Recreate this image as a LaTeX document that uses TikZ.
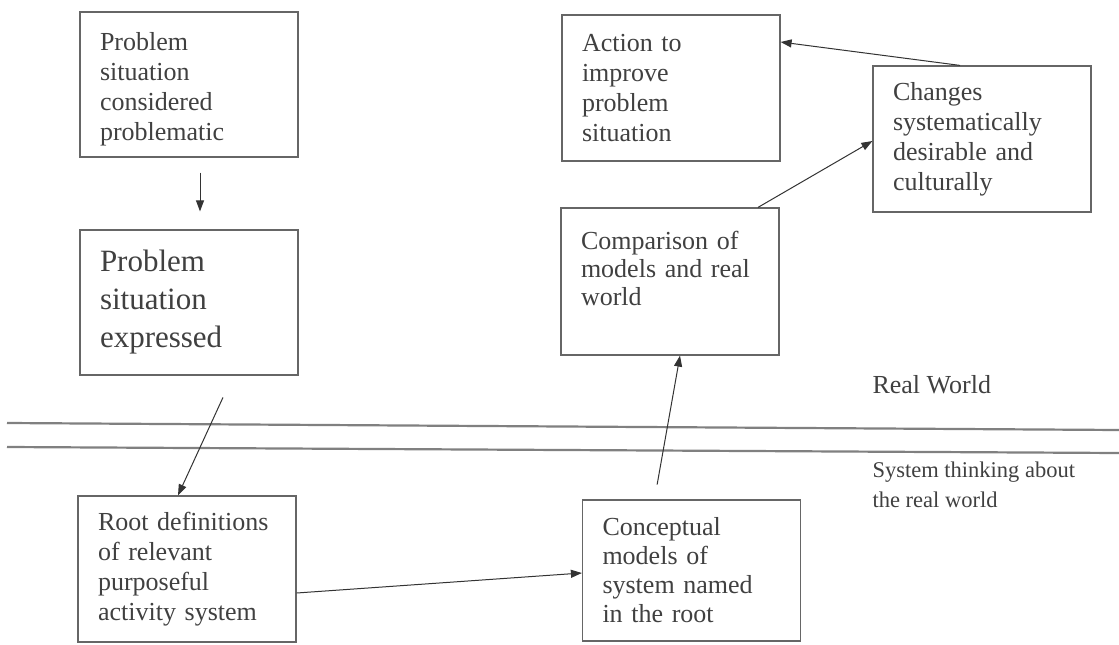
\documentclass[tikz,border=0pt]{standalone}
\usepackage{fontspec}
\setmainfont{Liberation Serif}
\usetikzlibrary{arrows.meta}

\begin{document}
\begin{tikzpicture}[
    x=1pt, y=-1pt,
    box/.style={draw=black!60, line width=1.2pt, rectangle, align=left, text=black!75,
                text width=178pt, inner xsep=20pt, minimum height=145pt,
                font=\fontsize{26}{30}\selectfont},
    bigbox/.style={box, font=\fontsize{31}{38}\selectfont},
    arrow/.style={-{Triangle[length=11pt,width=8pt]}, line width=1pt, black!80},
    divider/.style={line width=2.2pt, black!50},
    zone/.style={align=left, text=black!75, anchor=west}
]

\useasboundingbox (0,0) rectangle (1119,645);

% Real world
\node[box, text depth=86pt] (considered) at (189, 84.5) {Problem\\situation\\considered\\problematic};
\node[bigbox] (expressed) at (189, 302.5) {Problem\\situation\\expressed};
\node[box, minimum height=146pt] (action) at (671, 88) {Action to\\improve\\problem\\situation};
\node[box, minimum height=146pt] (changes) at (982, 139) {Changes\\systematically\\desirable and\\culturally};
\node[box, minimum height=147pt, text depth=83pt, font=\fontsize{26}{28}\selectfont] (comparison) at (670, 281.5) {Comparison of\\models and real\\world};

% Systems thinking
\node[box, minimum height=146pt] (rootdef) at (187, 569) {Root definitions\\of relevant\\purposeful\\activity system};
\node[box, minimum height=141pt, font=\fontsize{26}{29}\selectfont] (conceptual) at (691.5, 570.5) {Conceptual\\models of\\system named\\in the root};

% Boundary between the two worlds
\draw[divider] (7,423) -- (1119,430);
\draw[divider] (7,447) -- (1119,453);

\node[zone, font=\fontsize{26}{30}\selectfont] (realworld) at (869,385) {Real World};
\node[zone, anchor=north west, font=\fontsize{22.5}{30}\selectfont] (systhink) at (869,458) {System thinking about\\the real world};

% Flow
\draw[arrow, shorten <=15pt, shorten >=18pt] ([xshift=11pt]considered.south) -- ([xshift=11pt]expressed.north);
\draw[arrow, shorten <=24pt] ([xshift=44pt]expressed.south) -- ([xshift=-9pt]rootdef.north);
\draw[arrow] ([yshift=-24pt]rootdef.east) -- ([yshift=-2.5pt]conceptual.west);
\draw[arrow, shorten <=15pt] ([xshift=-37pt]conceptual.north) -- ([xshift=10pt]comparison.south);
\draw[arrow] ([xshift=88pt]comparison.north) -- ([yshift=-2pt]changes.west);
\draw[arrow] ([xshift=-22pt]changes.north) -- ([yshift=46pt]action.east);

\end{tikzpicture}
\end{document}
